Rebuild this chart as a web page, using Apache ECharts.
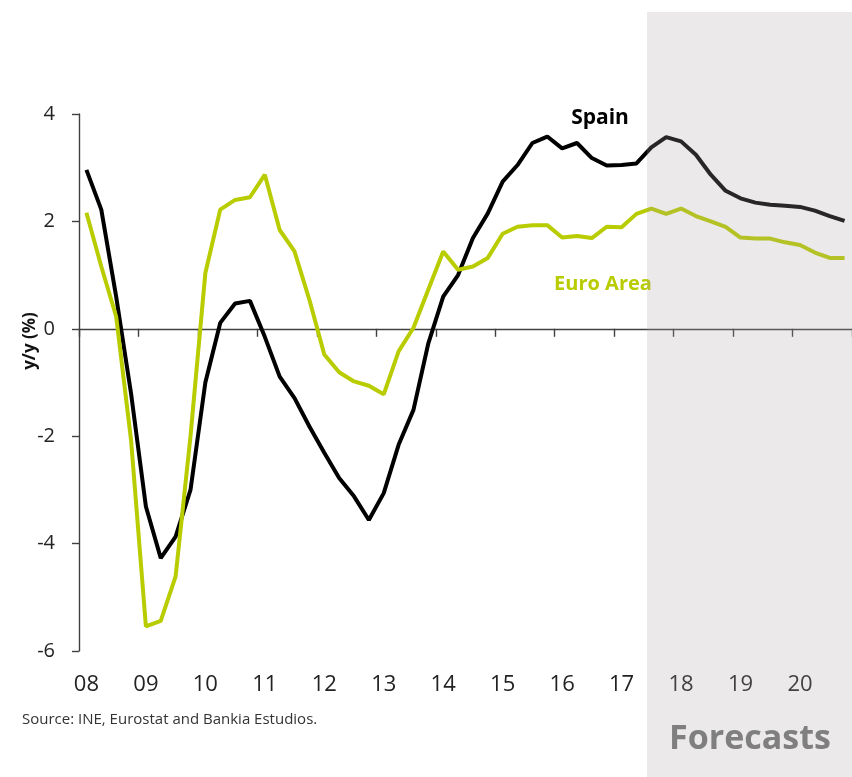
<!DOCTYPE html>
<html>
<head>
<meta charset="utf-8">
<script src="https://cdn.jsdelivr.net/npm/echarts@6/dist/echarts.min.js"></script>
<style>
html,body{margin:0;padding:0;background:#fff;}
#chart{width:852px;height:777px;}
</style>
</head>
<body>
<div id="chart"></div>
<script>
const years = ['08','09','10','11','12','13','14','15','16','17','18','19','20'];
const quarters = ['Q1','Q2','Q3','Q4'];
const categories = [];
years.forEach(y => quarters.forEach(q => categories.push(y + ' ' + q)));

const spain = [
  2.96, 2.22, 0.60, -1.20,
  -3.31, -4.27, -3.87, -3.00,
  -1.00, 0.11, 0.47, 0.52,
  -0.15, -0.89, -1.29, -1.82,
  -2.31, -2.78, -3.12, -3.56,
  -3.06, -2.16, -1.51, -0.27,
  0.60, 1.00, 1.69, 2.15,
  2.74, 3.05, 3.46, 3.58,
  3.36, 3.46, 3.18, 3.04,
  3.05, 3.08, 3.38, 3.57,
  3.49, 3.24, 2.87, 2.57,
  2.43, 2.35, 2.31, 2.29,
  2.27, 2.20, 2.10, 2.01
];
const euroArea = [
  2.16, 1.16, 0.23, -2.07,
  -5.54, -5.44, -4.61, -2.00,
  1.04, 2.22, 2.40, 2.45,
  2.87, 1.84, 1.44, 0.54,
  -0.48, -0.81, -0.98, -1.06,
  -1.22, -0.42, 0.02, 0.73,
  1.44, 1.10, 1.16, 1.32,
  1.77, 1.90, 1.93, 1.93,
  1.70, 1.73, 1.69, 1.90,
  1.89, 2.14, 2.24, 2.14,
  2.24, 2.10, 2.00, 1.90,
  1.70, 1.68, 1.68, 1.61,
  1.56, 1.42, 1.32, 1.32
];
const yTicks = [-6, -4, -2, 0, 2, 4];

const FONT = '"Open Sans", "Noto Sans", sans-serif';
const GREEN = '#b8cc00';

const chart = echarts.init(document.getElementById('chart'));
chart.setOption({
  animation: false,
  backgroundColor: '#ffffff',
  grid: { left: 79, right: -7, top: 114, bottom: 126, containLabel: false },
  xAxis: [
    {
      type: 'category',
      data: categories,
      boundaryGap: true,
      position: 'bottom',
      axisLine: { onZero: true, lineStyle: { color: '#404040', width: 1.4 } },
      axisTick: { show: true, interval: 3, length: 8, lineStyle: { color: '#404040', width: 1.4 } },
      axisLabel: { show: false },
      splitLine: { show: false }
    },
    {
      type: 'category',
      data: categories,
      boundaryGap: true,
      position: 'bottom',
      axisLine: { show: false, onZero: false },
      axisTick: { show: false },
      axisLabel: {
        show: true, interval: 3, margin: 23,
        formatter: v => v.slice(0, 2),
        fontFamily: FONT, fontSize: 22, color: '#222'
      },
      splitLine: { show: false }
    }
  ],
  yAxis: {
    type: 'value',
    min: yTicks[0], max: yTicks[yTicks.length - 1], interval: 2,
    axisLine: { show: true, lineStyle: { color: '#404040', width: 1.4 } },
    axisTick: { show: true, length: 7, lineStyle: { color: '#404040', width: 1.4 } },
    axisLabel: { margin: 24, fontFamily: FONT, fontSize: 20, color: '#222' },
    splitLine: { show: false }
  },
  series: [
    {
      name: 'Spain', type: 'line', data: spain, xAxisIndex: 0,
      symbol: 'none', smooth: false,
      lineStyle: { color: '#000000', width: 4 }, z: 3
    },
    {
      name: 'Euro Area', type: 'line', data: euroArea, xAxisIndex: 0,
      symbol: 'none', smooth: false,
      lineStyle: { color: GREEN, width: 4 }, z: 4
    }
  ],
  graphic: [
    {
      type: 'rect', z: 100, silent: true,
      shape: { x: 647, y: 12, width: 210, height: 770 },
      style: { fill: 'rgba(170,162,162,0.235)' }
    },
    {
      type: 'text', z: 101, x: 750, y: 739,
      style: { text: 'Forecasts', fill: '#7f7f7f', font: 'bold 34px ' + FONT, textAlign: 'center', textVerticalAlign: 'middle' }
    },
    {
      type: 'text', z: 50, x: 600, y: 118,
      style: { text: 'Spain', fill: '#000', font: 'bold 21px ' + FONT, textAlign: 'center', textVerticalAlign: 'middle' }
    },
    {
      type: 'text', z: 50, x: 603, y: 284,
      style: { text: 'Euro Area', fill: GREEN, font: 'bold 20px ' + FONT, textAlign: 'center', textVerticalAlign: 'middle' }
    },
    {
      type: 'text', z: 50, x: 30, y: 341, rotation: Math.PI / 2,
      style: { text: 'y/y (%)', fill: '#111', font: 'bold 17px ' + FONT, textAlign: 'center', textVerticalAlign: 'middle' }
    },
    {
      type: 'text', z: 50, x: 22, y: 720,
      style: { text: 'Source: INE, Eurostat and Bankia Estudios.', fill: '#333', font: '15px ' + FONT, textAlign: 'left', textVerticalAlign: 'middle' }
    }
  ]
});
</script>
</body>
</html>
